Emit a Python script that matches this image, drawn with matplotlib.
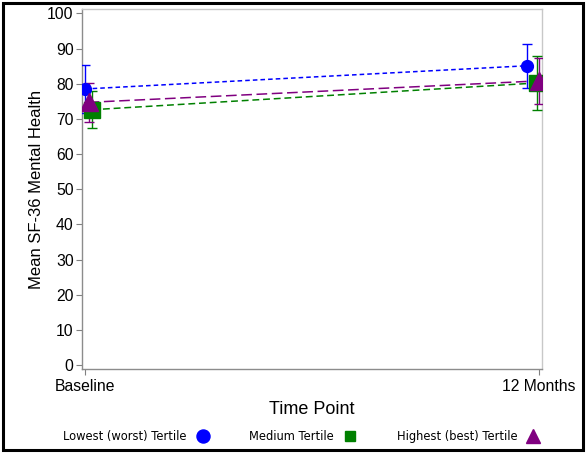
import matplotlib
matplotlib.use('Agg')
import matplotlib.pyplot as plt
from matplotlib.patches import Rectangle
from matplotlib.lines import Line2D

plt.rcParams['font.family'] = ['Liberation Sans', 'DejaVu Sans']

#__________________________________________________________
# data
time_labels = ['Baseline', '12 Months']
groups = ['Lowest (worst) Tertile', 'Medium Tertile', 'Highest (best) Tertile']

# x positions are slightly dodged per group
x_low  = [0.0, 0.974]
x_med  = [0.016, 0.995]
x_high = [0.008, 1.0]

mean_low  = [78.5, 85.1]
mean_med  = [72.6, 80.2]
mean_high = [74.7, 80.8]

err_low  = [6.7, 6.3]
err_med  = [5.2, 7.6]
err_high = [5.5, 6.5]

colors  = ['#0000ff', '#008000', '#800080']
markers = ['o', 's', '^']
msizes  = [8.5, 12, 13]
dashes  = [(3, 2), (4.5, 2.5), (7, 3)]

#__________________________________________________________
fig = plt.figure(figsize=(5.87, 4.55), dpi=100)
ax = fig.add_axes([0.1397, 0.189, 0.7836, 0.791])

xs = [x_low, x_med, x_high]
ms = [mean_low, mean_med, mean_high]
es = [err_low, err_med, err_high]

# lines first, then error bars and markers on top
for i in range(3):
    ax.plot(xs[i], ms[i], color=colors[i], linewidth=1.1, dashes=dashes[i], zorder=2)
for i in range(3):
    ax.errorbar(xs[i], ms[i], yerr=es[i], fmt='none', ecolor=colors[i],
                elinewidth=1.0, capsize=3.5, capthick=1.0, zorder=3)
for i in range(3):
    ax.plot(xs[i], ms[i], linestyle='none', marker=markers[i], markersize=msizes[i],
            color=colors[i], markeredgecolor=colors[i], zorder=4)

ax.set_xlim(-0.0066, 1.0066)
ax.set_ylim(-1.1, 101.2)
ax.set_xticks([0, 1])
ax.set_xticklabels(time_labels, fontsize=11.3)
ax.set_yticks(range(0, 101, 10))
ax.tick_params(axis='y', labelsize=11.3, length=4, color='#808080', pad=2)
ax.tick_params(axis='x', length=4, color='#808080', pad=3)

for s in ['left', 'bottom']:
    ax.spines[s].set_color('#8c8c8c')
for s in ['top', 'right']:
    ax.spines[s].set_color('#c8c8c8')
for s in ax.spines.values():
    s.set_linewidth(1.0)

ax.set_ylabel('Mean SF-36 Mental Health', fontsize=12, labelpad=2)
ax.set_xlabel('Time Point', fontsize=13, labelpad=5)

# legend: text then marker
handles = [Line2D([], [], linestyle='none', marker=markers[i], color=colors[i],
                  markersize=[9.4, 7.4, 9.4][i]) for i in range(3)]
fig.legend(handles, groups, loc='center', bbox_to_anchor=(0.514, 0.040), ncol=3,
           frameon=False, markerfirst=False, handletextpad=0.79,
           columnspacing=3.45, handlelength=1.2,
           prop={'family': 'DejaVu Sans', 'size': 8.3})

# outer border
fig.add_artist(Rectangle((0.005, 0.011), 0.988, 0.982, transform=fig.transFigure,
                         fill=False, edgecolor='black', linewidth=2.2))

plt.savefig('out.png', dpi=100)
